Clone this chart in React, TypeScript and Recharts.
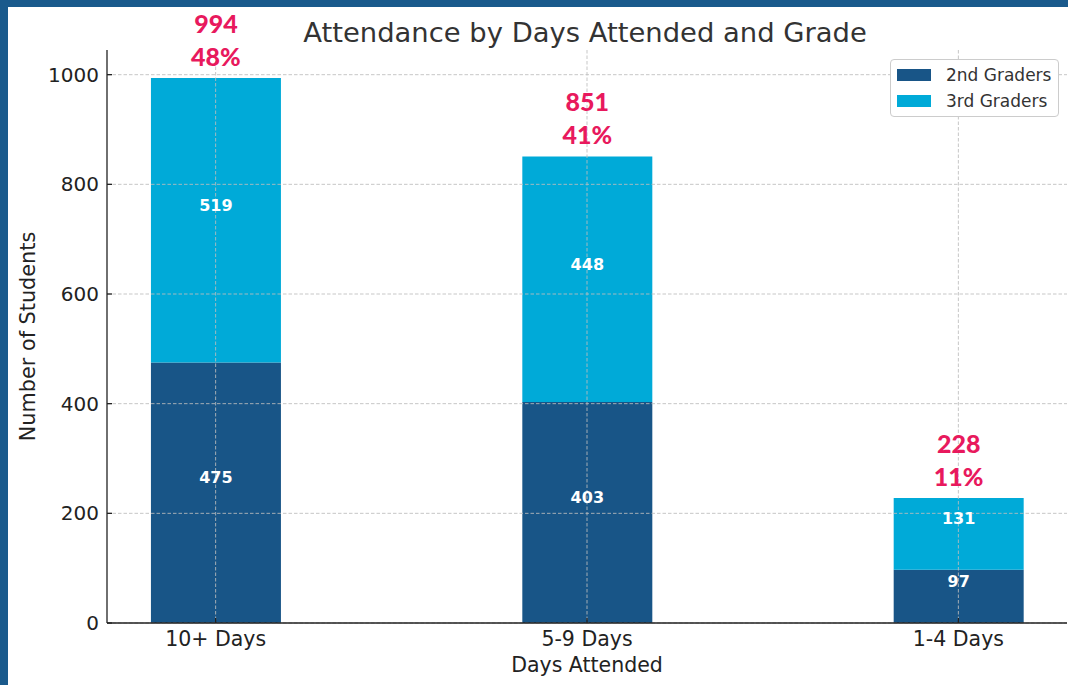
import React from 'react';
import { BarChart, Bar, XAxis, YAxis, CartesianGrid, Legend, LabelList } from 'recharts';

const categories = ['10+ Days', '5-9 Days', '1-4 Days'];
const secondGraders = [475, 403, 97];
const thirdGraders = [519, 448, 131];
const yTicks = [0, 200, 400, 600, 800, 1000];
const xTicks = [0, 1, 2];
const seriesNames = ['2nd Graders', '3rd Graders'];

const totals = categories.map((_, i) => secondGraders[i] + thirdGraders[i]);
const grandTotal = totals.reduce((a, b) => a + b, 0);

const data = categories.map((c, i) => ({
  x: i,
  name: c,
  second: secondGraders[i],
  third: thirdGraders[i],
}));

const DARK = '#185587';
const LIGHT = '#00aad8';
const FRAME = '#1a5a8c';
const PINK = '#e8195d';
const FONT = '"DejaVu Sans", sans-serif';

const InnerLabel = (props: any) => {
  const { x, y, width, height, value } = props;
  return (
    <text
      x={x + width / 2}
      y={y + height / 2 - 15}
      textAnchor="middle"
      dominantBaseline="central"
      fill="#ffffff"
      fontWeight="bold"
      fontSize={16}
      fontFamily={FONT}
    >
      {value}
    </text>
  );
};

const TopLabel = (props: any) => {
  const { x, y, width, index } = props;
  const total = totals[index];
  const pct = Math.round((total / grandTotal) * 100);
  const cx = x + width / 2;
  return (
    <g>
      <text x={cx} y={y - 55} textAnchor="middle" dominantBaseline="central" fill={PINK} fontWeight={900} fontSize={25} fontFamily="Lato, sans-serif">
        {total}
      </text>
      <text x={cx} y={y - 22} textAnchor="middle" dominantBaseline="central" fill={PINK} fontWeight={900} fontSize={25} fontFamily="Lato, sans-serif">
        {pct}%
      </text>
    </g>
  );
};

const LegendBox = () => (
  <div
    style={{
      width: 169,
      height: 58,
      boxSizing: 'border-box',
      border: '1px solid #cccccc',
      borderRadius: 4,
      background: '#ffffff',
      position: 'relative',
      fontFamily: FONT,
      fontSize: 17,
      color: '#333333',
    }}
  >
    {seriesNames.map((n, i) => (
      <div key={n} style={{ position: 'absolute', left: 6, top: 6 + i * 26, height: 18, display: 'flex', alignItems: 'center' }}>
        <div style={{ width: 34, height: 12, background: i === 0 ? DARK : LIGHT }} />
        <span style={{ marginLeft: 15, lineHeight: '18px', whiteSpace: 'nowrap' }}>{n}</span>
      </div>
    ))}
  </div>
);

export default function App() {
  return (
    <div style={{ position: 'absolute', left: 0, top: 0, width: 1068, height: 685, background: FRAME, overflow: 'hidden' }}>
      <div style={{ position: 'absolute', left: 8, top: 7, width: 1060, height: 678, background: '#ffffff' }} />
      <div style={{ position: 'absolute', left: 0, top: 0 }}>
        <BarChart
          width={1068}
          height={685}
          data={data}
          margin={{ top: 50, right: 1, bottom: 0, left: 0 }}
          style={{ fontFamily: FONT }}
        >
          <XAxis
            dataKey="x"
            type="number"
            domain={[-0.2925, 2.2925]}
            ticks={xTicks}
            allowDataOverflow
            tickFormatter={(v: number) => categories[v] ?? ''}
            height={62}
            tickSize={-5}
            tickMargin={13}
            axisLine={{ stroke: '#222', strokeWidth: 1.3 }}
            tickLine={{ stroke: '#222', strokeWidth: 1.3 }}
            tick={{ fontSize: 20.5, fill: '#222', fontFamily: FONT }}
            label={{ value: 'Days Attended', position: 'insideBottom', offset: 13, style: { fontSize: 20.5, fill: '#222', fontFamily: FONT } }}
          />
          <YAxis
            type="number"
            domain={[0, 1045]}
            ticks={yTicks}
            allowDataOverflow
            width={107}
            tickSize={-5}
            tickMargin={13}
            axisLine={{ stroke: '#222', strokeWidth: 1.3 }}
            tickLine={{ stroke: '#222', strokeWidth: 1.3 }}
            tick={{ fontSize: 20, fill: '#222', fontFamily: FONT }}
            label={{ value: 'Number of Students', angle: -90, position: 'insideLeft', offset: 28, style: { textAnchor: 'middle', fontSize: 20.8, fill: '#222', fontFamily: FONT } }}
          />
          <Bar dataKey="second" name={seriesNames[0]} stackId="a" fill={DARK} barSize={130} isAnimationActive={false}>
            <LabelList dataKey="second" content={InnerLabel} />
          </Bar>
          <Bar dataKey="third" name={seriesNames[1]} stackId="a" fill={LIGHT} barSize={130} isAnimationActive={false}>
            <LabelList dataKey="third" content={InnerLabel} />
            <LabelList dataKey="third" content={TopLabel} />
          </Bar>
          <CartesianGrid stroke="#bdbdbd" strokeOpacity={0.85} strokeDasharray="3.5 2" syncWithTicks zIndex={350} />
          <Legend
            layout="vertical"
            align="center"
            verticalAlign="middle"
            content={LegendBox}
            wrapperStyle={{ left: 890, top: 59, width: 169, height: 58 }}
          />
        </BarChart>
      </div>
      <svg style={{ position: 'absolute', left: 0, top: 0 }} width={1068} height={60}>
        <text x={585} y={42} textAnchor="middle" fontSize={27.4} fill="#333333" fontFamily={FONT}>
          Attendance by Days Attended and Grade
        </text>
      </svg>
    </div>
  );
}
